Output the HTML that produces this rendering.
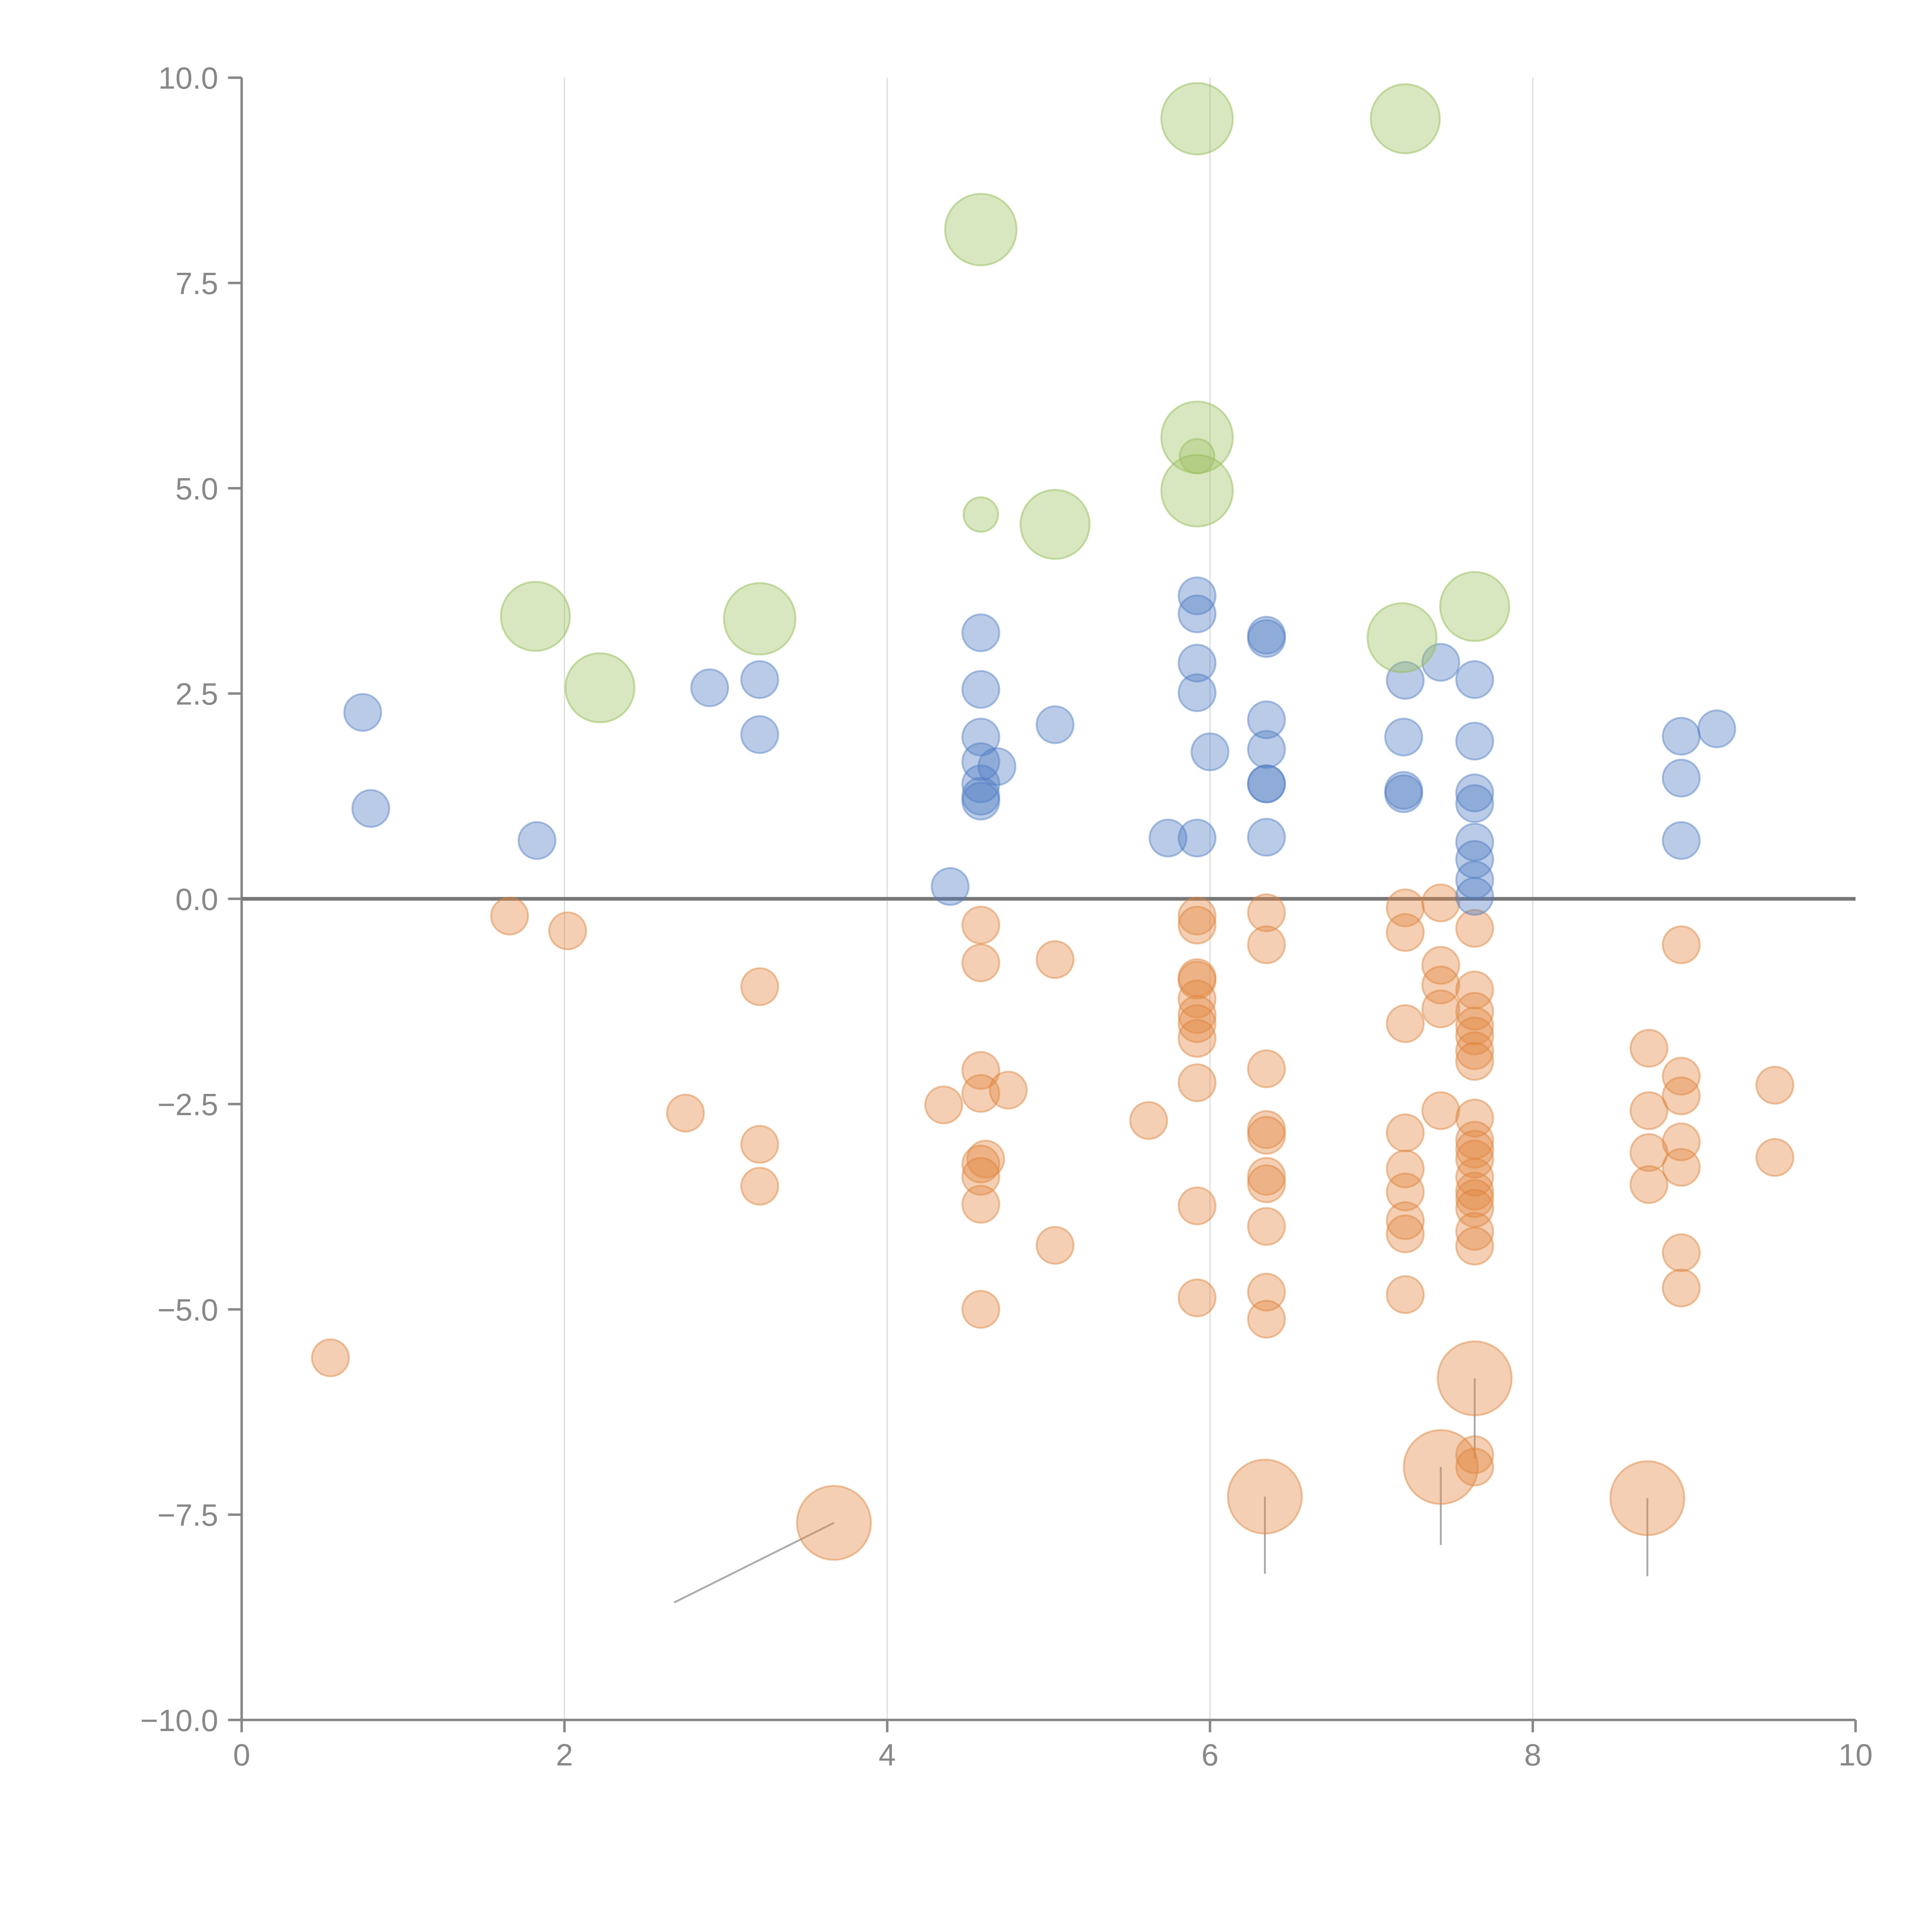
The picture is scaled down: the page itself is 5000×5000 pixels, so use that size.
<!DOCTYPE html>
<html><head><meta charset="utf-8"><style>html,body{margin:0;padding:0;background:#fff}svg{display:block}</style></head>
<body>
<svg id="chart" width="5000" height="5000" viewBox="0 0 1567 1567" xmlns="http://www.w3.org/2000/svg" font-family="Liberation Sans, sans-serif">
<g id="grid"></g>
<g id="axes"></g>
<g id="leaders"></g>
<g id="marks"></g>
</svg>
<script>
const xTicks=[0,2,4,6,8,10];
const yTicks=[10,7.5,5,2.5,0,-2.5,-5,-7.5,-10];
const yTickLabels=["10.0","7.5","5.0","2.5","0.0","\u22122.5","\u22125.0","\u22127.5","\u221210.0"];
const blueX=[0.75,0.80,1.83,2.90,3.21,3.21,4.39,4.58,4.58,4.58,4.58,4.68,4.58,4.58,4.58,5.04,5.74,5.92,5.92,5.92,5.92,5.92,6.00,6.35,6.35,6.35,6.35,6.35,6.35,6.35,7.20,7.20,7.20,7.21,7.43,7.64,7.64,7.64,7.64,7.64,7.64,7.64,7.64,8.92,9.14,8.92,8.92];
const blueY=[2.27,1.10,0.71,2.57,2.67,2.00,0.15,3.24,2.55,1.97,1.67,1.61,1.40,1.25,1.19,2.12,0.74,3.69,3.47,2.87,2.51,0.74,1.79,3.21,3.17,2.18,1.82,1.40,1.40,0.75,1.97,1.32,1.28,2.66,2.88,2.67,1.92,1.29,1.16,0.69,0.48,0.23,0.03,1.98,2.07,1.47,0.71];
const greenX=[1.82,2.22,3.21,4.58,4.58,5.04,5.92,5.92,5.92,5.92,7.19,7.21,7.64];
const greenY=[3.44,2.57,3.41,8.15,4.68,4.56,9.50,5.62,5.39,4.97,3.18,9.50,3.56];
const greenSize=[28,28,29,29,14,28,29,29,14,29,28,28,28];
const orangeX=[0.55,1.66,2.02,2.75,3.21,3.21,3.21,4.35,4.58,4.58,4.58,4.58,4.75,4.61,4.58,4.58,4.58,4.58,5.04,5.04,5.62,5.92,5.92,5.92,5.92,5.92,5.92,5.92,5.92,5.92,5.92,5.92,6.35,6.35,6.35,6.35,6.35,6.35,6.35,6.35,6.35,6.35,7.21,7.21,7.43,7.43,7.43,7.43,7.21,7.21,7.21,7.21,7.21,7.21,7.21,7.43,7.64,7.64,7.64,7.64,7.64,7.64,7.64,7.64,7.64,7.64,7.64,7.64,7.64,7.64,7.64,7.64,7.64,7.64,7.64,8.72,8.72,8.72,8.72,8.92,8.92,8.92,8.92,8.92,8.92,8.92,9.50,9.50];
const orangeY=[-5.59,-0.21,-0.39,-2.61,-1.07,-2.99,-3.50,-2.51,-0.32,-0.78,-2.09,-2.37,-2.33,-3.17,-3.23,-3.38,-3.72,-5.00,-0.74,-4.22,-2.70,-0.21,-0.32,-0.96,-0.99,-1.22,-1.41,-1.52,-1.70,-2.24,-3.74,-4.86,-0.17,-0.56,-2.07,-2.81,-2.88,-3.38,-3.47,-3.99,-4.79,-5.12,-0.11,-0.41,-0.05,-0.81,-1.05,-1.34,-1.52,-2.85,-3.29,-3.57,-3.92,-4.08,-4.82,-2.58,-0.36,-1.11,-1.37,-1.55,-1.67,-1.85,-1.98,-2.67,-2.94,-3.05,-3.17,-3.39,-3.56,-3.65,-3.77,-4.05,-4.23,-6.77,-6.92,-1.82,-2.58,-3.09,-3.48,-0.56,-2.16,-2.40,-2.96,-3.27,-4.31,-4.74,-2.27,-3.15];
const bigOrangeX=[3.67,6.34,7.43,7.64,8.71];
const bigOrangeY=[-7.60,-7.28,-6.92,-5.84,-7.30];
const leaderEndX=[2.68,6.34,7.43,7.64,8.71];
const leaderEndY=[-8.57,-8.22,-7.87,-6.82,-8.25];

const X0=196,X1=1505,Y0=63,Y1=1395;
function sx(v){return X0+(v-0)/(10-0)*(X1-X0);}
function sy(v){return Y0+(10-v)/(20)*(Y1-Y0);}
const NS="http://www.w3.org/2000/svg";
function mk(tag,parent,attrs){const e=document.createElementNS(NS,tag);for(const k in attrs)e.setAttribute(k,attrs[k]);parent.appendChild(e);return e;}
const grid=document.getElementById('grid'),axes=document.getElementById('axes'),marks=document.getElementById('marks'),leaders=document.getElementById('leaders');

xTicks.forEach(t=>{
  if(t>0&&t<10){const g=mk('line',grid,{x1:sx(t),x2:sx(t),y1:Y0,y2:Y1,stroke:'#dcdcdc','stroke-width':1});
  
  }
  const tk=mk('line',axes,{x1:sx(t),x2:sx(t),y1:Y1,y2:Y1+10,stroke:'#888','stroke-width':2});
  
  
  const tx=mk('text',axes,{x:sx(t),y:Y1+37,'text-anchor':'middle','font-size':25,fill:'#888'});
  tx.textContent=String(t);
  
  
});
yTicks.forEach((t,i)=>{
  const tk=mk('line',axes,{x1:X0-11,x2:X0,y1:sy(t),y2:sy(t),stroke:'#888','stroke-width':2});
  
  
  const tx=mk('text',axes,{x:X0-19,y:sy(t)+9,'text-anchor':'end','font-size':25,fill:'#888'});
  tx.textContent=yTickLabels[i];
  
  
});
const ya=mk('line',axes,{x1:X0,x2:X0,y1:Y0,y2:Y1,stroke:'#888','stroke-width':2});


const xa=mk('line',axes,{x1:X0,x2:X1,y1:Y1,y2:Y1,stroke:'#888','stroke-width':2});


const zl=mk('line',axes,{x1:X0,x2:X1,y1:sy(0),y2:sy(0),stroke:'#777','stroke-width':3});



bigOrangeX.forEach((v,i)=>{
  const l=mk('line',leaders,{x1:sx(v),y1:sy(bigOrangeY[i]),x2:sx(leaderEndX[i]),y2:sy(leaderEndY[i]),stroke:'#aaa','stroke-width':1.5});
  
  
});
function dot(x,y,r,fill,stroke,name){
  const c=mk('circle',marks,{cx:sx(x),cy:sy(y),r:r,fill:fill,stroke:stroke,'stroke-width':1.5});
  
  
}
const OF='rgba(228,135,65,0.4)',OS='rgba(220,130,60,0.45)';
const BF='rgba(80,125,195,0.4)',BS='rgba(80,125,195,0.45)';
const GF='rgba(160,195,100,0.4)',GS='rgba(150,190,90,0.5)';
orangeX.forEach((v,i)=>dot(v,orangeY[i],15,OF,OS,'orange-point'));
bigOrangeX.forEach((v,i)=>dot(v,bigOrangeY[i],30,OF,OS,'orange-big-point'));
blueX.forEach((v,i)=>dot(v,blueY[i],15,BF,BS,'blue-point'));
greenX.forEach((v,i)=>dot(v,greenY[i],greenSize[i],GF,GS,'green-point'));
</script>
</body></html>
